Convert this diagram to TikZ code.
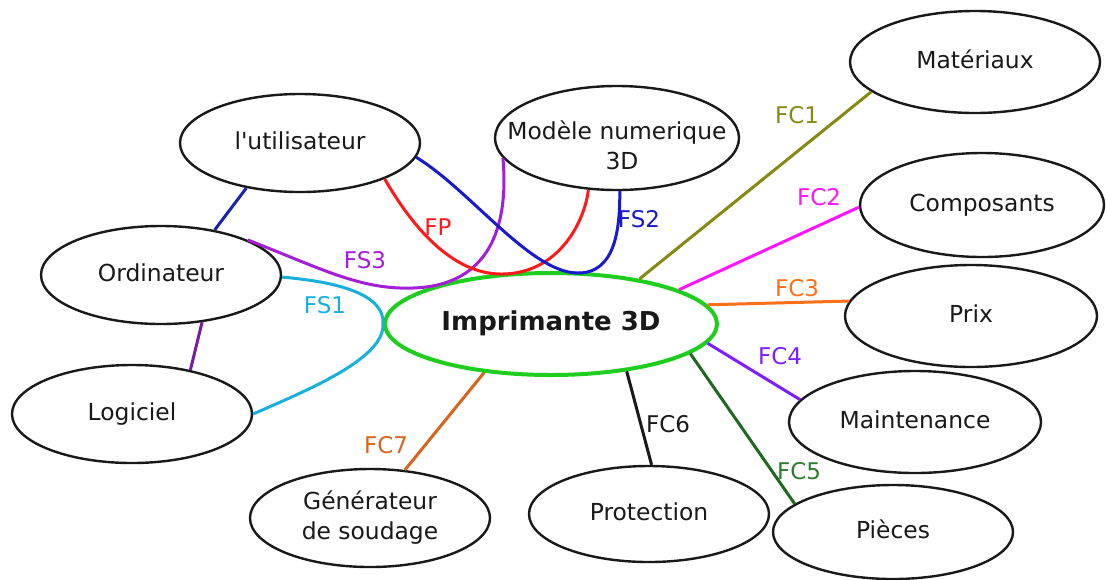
\documentclass[tikz,border=0pt]{standalone}
\usepackage{fontspec}
\setmainfont{DejaVu Sans}[Ligatures=TeXOff]
\usetikzlibrary{shapes.geometric}
\definecolor{txt}{RGB}{25,25,25}
\definecolor{cOlive}{RGB}{136,136,20}
\definecolor{cMag}{RGB}{255,20,255}
\definecolor{cOr}{RGB}{255,110,25}
\definecolor{cVio}{RGB}{125,30,255}
\definecolor{cDg}{RGB}{30,105,30}
\definecolor{cDgT}{RGB}{45,125,45}
\definecolor{cBr}{RGB}{215,100,30}
\definecolor{cCy}{RGB}{25,175,220}
\definecolor{cPu}{RGB}{165,30,215}
\definecolor{cPuD}{RGB}{120,25,170}
\definecolor{cRed}{RGB}{255,25,25}
\definecolor{cBl}{RGB}{25,25,205}
\definecolor{cBlD}{RGB}{25,35,175}
\definecolor{cGr}{RGB}{30,205,30}
\newcommand{\mk}[1]{\makebox[0pt]{\begin{tabular}{@{}c@{}}#1\end{tabular}}}
\tikzset{
  ell/.style n args={2}{ellipse, draw=txt, fill=white, line width=1.2pt,
    minimum width=#1pt, minimum height=#2pt, inner sep=0pt, text=txt,
    font=\fontsize{11.7pt}{15pt}\selectfont},
  lab/.style={inner sep=0pt, font=\fontsize{11.5pt}{14pt}\selectfont},
  con/.style={line width=1.5pt},
}
\begin{document}
\begin{tikzpicture}[x=0.5pt,y=-0.5pt]
\useasboundingbox (0,0) rectangle (1106,579);
% nodes
\node[ell={166}{51}, draw=cGr, line width=2pt, font=\fontsize{13pt}{15pt}\selectfont\bfseries] (imp) at (551,324) {\mk{Imprimante 3D}};
\node[ell={125}{51}] (mat) at (975,62) {\mk{Matériaux}};
\node[ell={122}{52}] (comp) at (982,205) {\mk{Composants}};
\node[ell={126}{51}] (prix) at (971,316) {\mk{Prix}};
\node[ell={126}{51}] (maint) at (915,422) {\mk{Maintenance}};
\node[ell={120}{47}] (pie) at (893,532) {\mk{Pièces}};
\node[ell={120}{48}] (prot) at (649,514) {\mk{Protection}};
\node[ell={120}{49}] (gen) at (370,518) {\mk{Générateur\\de soudage}};
\node[ell={120}{49}] (log) at (132,414) {\mk{Logiciel}};
\node[ell={120}{49}] (ord) at (161,275) {\mk{Ordinateur}};
\node[ell={120}{49}] (util) at (300,143) {\mk{l'utilisateur}};
\node[ell={122}{52}] (mod) at (617,138) {\raisebox{-8pt}[0pt][0pt]{\mk{Modèle numerique\\\hspace*{5pt}3D}}};
% FC connectors
\draw[con, cOlive] (imp.27.6) -- (mat.196);
\draw[con, cMag] (imp.15) -- (comp.181);
\draw[con, cOr] (imp.7.6) -- (prix.173.5);
\draw[con, cVio] (imp.-7.3) -- (maint.169);
\draw[con, cDg] (imp.-12.7) -- (pie.164.6);
\draw[con, txt] (imp.-32.6) -- (prot.87.7);
\draw[con, cBr] (imp.216) -- (gen.54);
% short links
\draw[con, cBlD] (util.220) -- (ord.40);
\draw[con, cPuD] (ord.-49.6) -- (log.37);
% FS / FP curves
\draw[con, cCy] (ord.-1) .. controls (340,282) and (385,295) .. (imp.west)
   .. controls (385,360) and (300,393) .. (log.0);
\draw[con, cPu] (ord.22) .. controls (320,268) and (360,290) .. (413,288)
   .. controls (480,286) and (510,240) .. (mod.190.6);
\draw[con, cRed] (util.-23) .. controls (420,240) and (460,275) .. (503,274)
   .. controls (560,273) and (585,220) .. (mod.241);
\draw[con, cBl] (util.-7) .. controls (470,190) and (530,272) .. (577,273)
   .. controls (615,274) and (620,230) .. (mod.273);
% labels
\node[lab, text=cOlive] (lfc1) at (797,115) {FC1};
\node[lab, text=cMag] (lfc2) at (819,197) {FC2};
\node[lab, text=cOr] (lfc3) at (797,288) {FC3};
\node[lab, text=cVio] (lfc4) at (780,356) {FC4};
\node[lab, text=cDgT] (lfc5) at (799,471) {FC5};
\node[lab, text=txt] (lfc6) at (668,424) {FC6};
\node[lab, text=cBr] (lfc7) at (386,445) {FC7};
\node[lab, text=cCy] (lfs1) at (325,305) {FS1};
\node[lab, text=cPu] (lfs3) at (365,260) {FS3};
\node[lab, text=cRed] (lfp) at (438,227) {FP};
\node[lab, text=cBl] (lfs2) at (639,219) {FS2};
\end{tikzpicture}
\end{document}
